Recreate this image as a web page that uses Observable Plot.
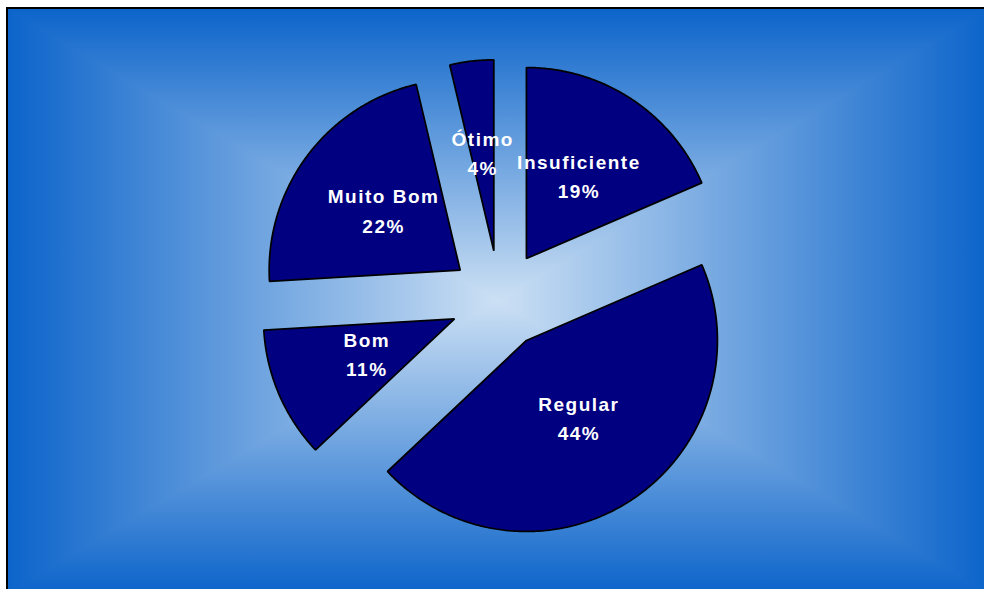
<!DOCTYPE html>
<html>
<head>
<meta charset="utf-8">
<script src="https://cdn.jsdelivr.net/npm/d3@7"></script>
<script src="https://cdn.jsdelivr.net/npm/@observablehq/plot@0.6"></script>
<style>
  html, body { margin: 0; padding: 0; background: #ffffff; }
  #wrap { position: relative; width: 984px; height: 589px; overflow: hidden; }
  #frame {
    position: absolute; left: 6px; top: 7px; right: -4px; bottom: -4px;
    border-left: 2px solid #000; border-top: 2px solid #000;
    background-image:
      linear-gradient(to right, #0c64ca 0%, #cce0f4 50%, #0c64ca 100%),
      linear-gradient(to bottom, #0c64ca 0%, #cce0f4 50%, #0c64ca 100%);
    background-blend-mode: darken;
  }
  #chart { position: absolute; left: 0; top: 0; }
  #chart text { letter-spacing: 1.5px; }
</style>
</head>
<body>
<div id="wrap"><div id="frame"></div><div id="chart"></div></div>
<script>
// Data (slice shares in %, clockwise from 12 o'clock)
const categories = ["Insuficiente", "Regular", "Bom", "Muito Bom", "Ótimo"];
const shares = [18.5, 44.4, 11.1, 22.2, 3.7];
const pctLabels = ["19%", "44%", "11%", "22%", "4%"];

const rows = categories.map((name, i) => ({name, share: shares[i], pct: pctLabels[i]}));

// Pie geometry in "radius units"
const W = 984, H = 589;
const CX = 499, CY = 299, RPX = 191;
const EXPLODE = 49 / RPX;
const LABEL_R = 0.5;

const arcs = d3.pie().sort(null).value(d => d.share).startAngle(0).endAngle(2 * Math.PI)(rows);

const slicePts = [];
const labelRows = [];
for (const a of arcs) {
  const mid = (a.startAngle + a.endAngle) / 2;
  const ox = EXPLODE * Math.sin(mid), oy = EXPLODE * Math.cos(mid);
  slicePts.push({name: a.data.name, x: ox, y: oy});
  const n = Math.max(4, Math.ceil((a.endAngle - a.startAngle) / (Math.PI / 360)));
  for (let k = 0; k <= n; k++) {
    const t = a.startAngle + (a.endAngle - a.startAngle) * k / n;
    slicePts.push({name: a.data.name, x: ox + Math.sin(t), y: oy + Math.cos(t)});
  }
  labelRows.push({
    x: ox + LABEL_R * Math.sin(mid),
    y: oy + LABEL_R * Math.cos(mid),
    text: a.data.name + "\n" + a.data.pct
  });
}

const chart = Plot.plot({
  width: W,
  height: H,
  margin: 0,
  style: {background: "transparent", overflow: "visible"},
  x: {domain: [-CX / RPX, (W - CX) / RPX], axis: null},
  y: {domain: [-(H - CY) / RPX, CY / RPX], axis: null},
  marks: [
    Plot.line(slicePts, {
      x: "x", y: "y", z: "name",
      fill: "#000080", stroke: "#000000", strokeWidth: 1.75,
      strokeLinejoin: "miter", curve: "linear-closed"
    }),
    Plot.text(labelRows, {
      x: "x", y: "y", text: "text", dy: -4.5,
      fill: "#ffffff", fontSize: 19, fontWeight: "bold",
      fontFamily: "'Liberation Sans', Arial, sans-serif",
      lineHeight: 1.53, lineAnchor: "middle", textAnchor: "middle"
    })
  ]
});
document.getElementById("chart").appendChild(chart);
</script>
</body>
</html>
